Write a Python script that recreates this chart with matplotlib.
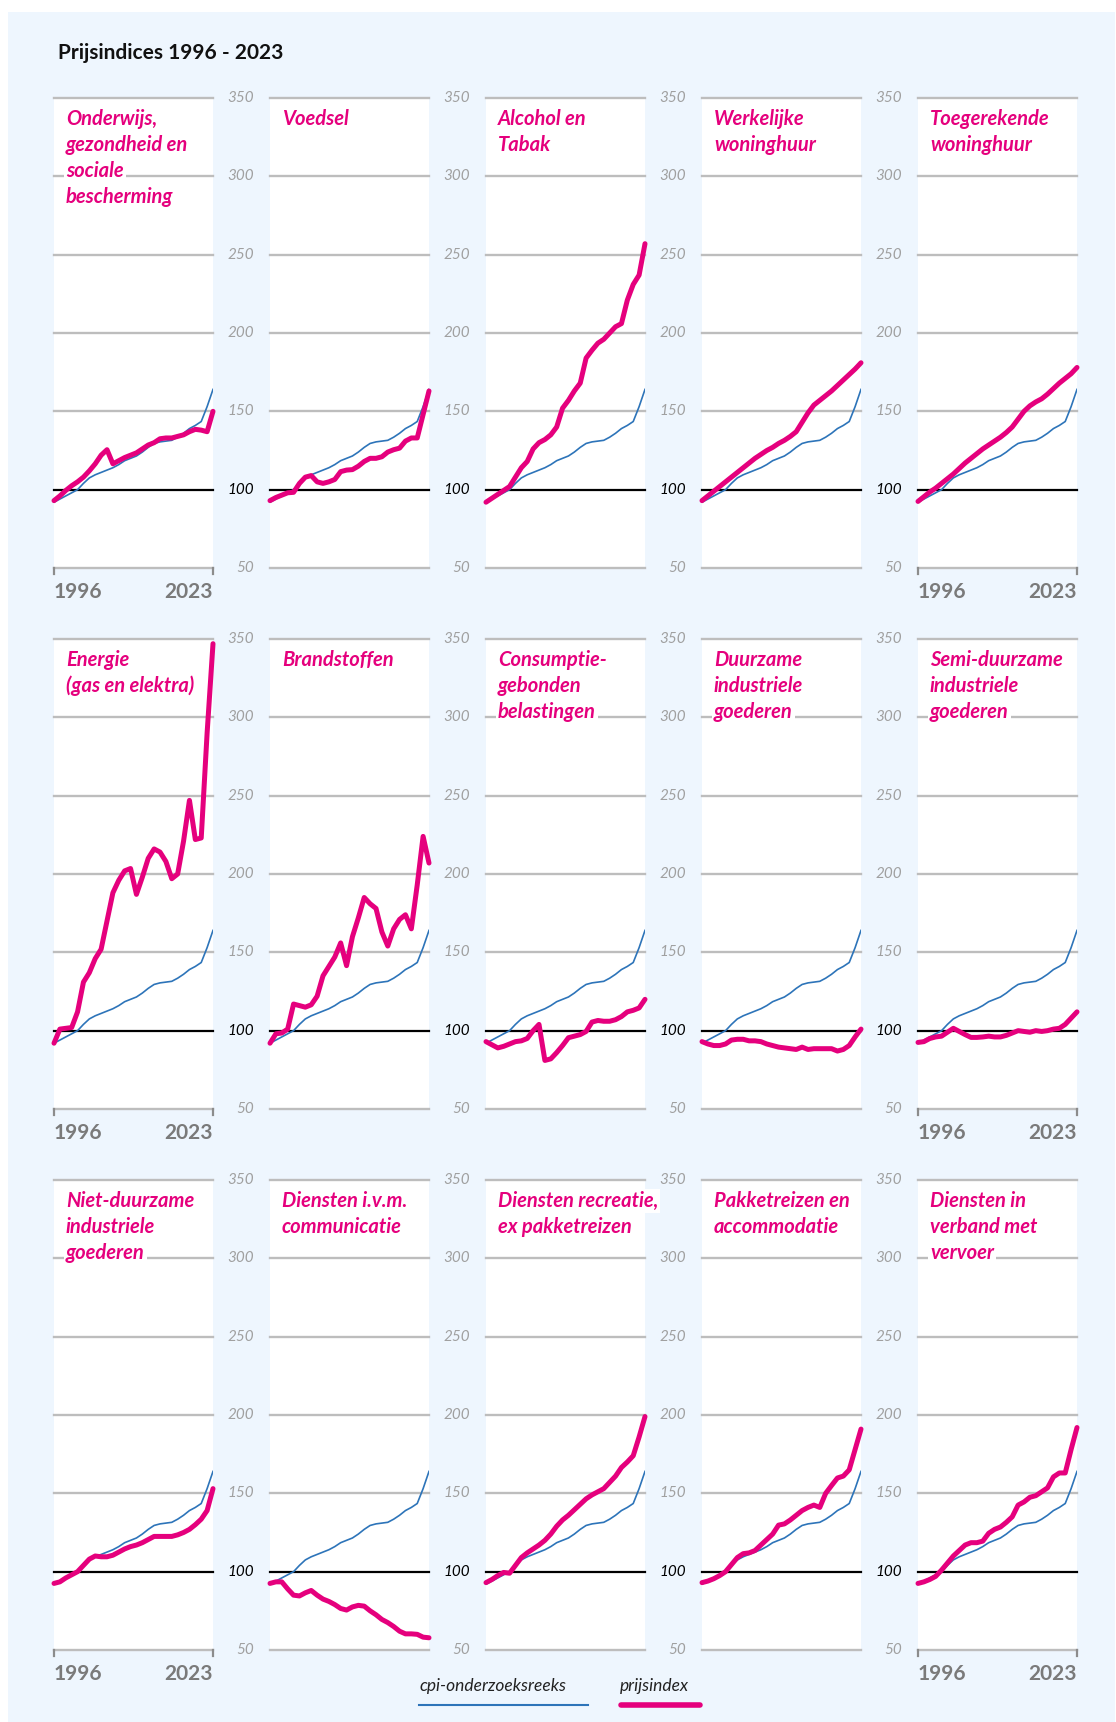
import matplotlib
matplotlib.use('Agg')
import matplotlib.pyplot as plt
from matplotlib.patches import Rectangle
from matplotlib.lines import Line2D
from matplotlib.transforms import blended_transform_factory

# data (index, 1996-2023)
years = list(range(1996, 2024))

cpi = [92, 94, 96, 98, 100, 104, 107.5, 109.5, 111, 112.5, 114, 116, 118.5, 120,
       121.5, 124, 127, 129.5, 130.5, 131, 131.5, 133.5, 136, 139, 141, 143.5, 153, 164]

onderwijs = [93, 96, 99.5, 102.5, 105, 108, 112, 116.5, 122, 125.5, 116.5, 118.5, 120.5, 122,
             123.5, 126, 128.5, 130, 132.5, 133, 133, 134, 135, 137, 138.5, 138, 137, 150]
voedsel = [93, 95, 96.5, 98, 98.3, 104, 108, 109, 105, 104, 105, 106.5, 111.5, 112.5,
           112.8, 115, 118, 120, 120, 121, 124, 125.5, 126.5, 131, 133, 133, 148, 163]
alcohol = [92, 94.5, 97, 99.5, 102, 108, 114, 118, 126, 130, 132, 135, 140, 152,
           157, 163, 168, 184, 189, 193.5, 196, 200, 204, 206, 221, 231, 237, 257]
werkelijke = [93, 96, 99, 102, 105, 108, 111, 114, 117, 120, 122.5, 125, 127, 129.5,
              131.5, 134, 137, 143, 149, 154, 157, 160, 163, 166.5, 170, 173.5, 177, 181]
toegerekend = [92.5, 95.5, 98.5, 101, 104, 107, 110, 113.5, 117, 120, 123, 126, 128.5, 131,
               133.5, 136.5, 140, 145, 150, 153.5, 156, 158, 161, 164.5, 168, 171, 174, 178]

energie = [92, 101, 101.5, 102, 112, 131, 137, 146, 152, 170, 188, 196, 202, 203.5,
           187, 198, 210, 216, 214, 208, 197, 200, 221, 247, 222, 223, 290, 347]
brandstoffen = [92, 98, 98.5, 101, 117, 116, 115, 116.5, 122, 135, 141, 147, 156, 141.5,
                160, 172, 185, 181, 178, 163, 154, 165, 171, 174, 165, 193, 224, 207]
belastingen = [93, 91, 89, 90, 91.5, 93, 93.5, 95, 100, 104, 81, 82, 86, 90.5,
               95.5, 96.5, 97.5, 99.5, 105.5, 106.5, 106, 106, 107, 109, 112, 113, 114.5, 120]
duurzaam = [93, 91.5, 90.5, 90.5, 91.5, 94, 94.5, 94.5, 93.5, 93.5, 93, 91.5, 90.5, 89.5,
            89, 88.5, 88, 89.5, 88, 88.5, 88.5, 88.5, 88.5, 87, 88, 90.5, 96, 101]
semiduurzaam = [92.5, 93, 95, 96, 96.5, 99, 101.5, 99.5, 97.5, 95.7, 95.7, 96, 96.5, 96,
                96, 97, 98.5, 100, 99.5, 99, 100, 99.5, 100, 101, 101.5, 104, 108, 112]

nietduurzaam = [92.5, 93.5, 96, 98, 100, 104, 108, 110, 109.5, 109.5, 110.5, 112.5, 114.5, 116,
                117, 118.5, 120.5, 122.5, 122.5, 122.5, 122.5, 123.5, 125, 127, 130, 133.5, 139, 153]
communicatie = [92.5, 93.5, 93.5, 89, 85, 84.5, 86.5, 88, 85, 82.5, 81, 79, 76.5, 75.5,
                77.5, 78.5, 78, 75, 72.5, 69.5, 67.5, 65, 62, 60.3, 60.3, 60, 58.2, 57.8]
recreatie = [93, 95, 97.5, 99.5, 99, 104, 109, 112, 114.5, 117, 120, 124, 129, 133,
             136, 139.5, 143, 146.5, 149, 151, 153, 157, 161, 166.5, 170, 174, 186, 199]
pakketreizen = [93, 94, 95.5, 97.5, 100, 104.5, 109, 111.5, 112, 113.5, 117, 120.5, 124, 129.7,
                130.5, 133, 136, 139, 141, 142.5, 141, 150, 155, 159.8, 161, 165, 178, 191]
vervoer = [92.5, 93.5, 95, 97, 101, 105.5, 110, 113.5, 117, 118.5, 118.5, 119.5, 124.5, 127,
           128.5, 131.5, 135, 142.5, 144.5, 147.5, 148.5, 151, 153.5, 160.5, 163, 163, 178, 192]

titles = [
    ["Onderwijs,", "gezondheid en", "sociale", "bescherming"], ["Voedsel"], ["Alcohol en", "Tabak"],
    ["Werkelijke", "woninghuur"], ["Toegerekende", "woninghuur"],
    ["Energie", "(gas en elektra)"], ["Brandstoffen"], ["Consumptie-", "gebonden", "belastingen"],
    ["Duurzame", "industriele", "goederen"], ["Semi-duurzame", "industriele", "goederen"],
    ["Niet-duurzame", "industriele", "goederen"], ["Diensten i.v.m.", "communicatie"],
    ["Diensten recreatie,", "ex pakketreizen"], ["Pakketreizen en", "accommodatie"],
    ["Diensten in", "verband met", "vervoer"],
]
series = [onderwijs, voedsel, alcohol, werkelijke, toegerekend,
          energie, brandstoffen, belastingen, duurzaam, semiduurzaam,
          nietduurzaam, communicatie, recreatie, pakketreizen, vervoer]
yticks = [50, 100, 150, 200, 250, 300, 350]

MAGENTA = '#E5007D'
BLUE = '#2D74B9'
GRID = '#BDBDBD'
BG = '#EEF6FE'
FONT = ['Lato', 'DejaVu Sans']

W, H = 1116, 1722
fig = plt.figure(figsize=(W / 100, H / 100), dpi=100)
bg = Rectangle((8 / W, 0), (W - 9) / W, (H - 12) / H, transform=fig.transFigure,
               fc=BG, ec='none', zorder=-10)
fig.patches.append(bg)
fig.text(58 / W, 1 - 53 / H, "Prijsindices 1996 - 2023", fontsize=15, fontweight='bold',
         family=FONT, color='#111111', ha='left', va='center')

col_left = [54, 270, 486, 702, 918]
row_top = [98, 639, 1180]
pw, ph = 159, 470

for i, vals in enumerate(series):
    r, c = divmod(i, 5)
    ax = fig.add_axes([col_left[c] / W, 1 - (row_top[r] + ph) / H, pw / W, ph / H])
    ax.set_facecolor('white')
    ax.set_xlim(1996, 2023)
    ax.set_ylim(50, 350)
    for s in ax.spines.values():
        s.set_visible(False)
    ax.set_xticks([])
    ax.set_yticks([])

    for v in yticks:
        ax.axhline(v, color='black' if v == 100 else GRID, lw=1.6 if v == 100 else 1.7,
                   zorder=1, clip_on=False)

    ax.plot(years, cpi, color=BLUE, lw=1.2, zorder=4)
    ax.plot(years, vals, color=MAGENTA, lw=3.6, zorder=5, solid_joinstyle='round',
            solid_capstyle='round', clip_on=False)

    # panel title, one white box per line
    for j, line in enumerate(titles[i]):
        ax.text(12 / pw, 1 - (21 + 26 * j) / ph, line, transform=ax.transAxes,
                fontsize=14.5, fontweight='bold', style='italic', family=FONT,
                color=MAGENTA, ha='left', va='center', zorder=3,
                bbox=dict(fc='white', ec='none', pad=1.5))

    if c > 0:
        tr = blended_transform_factory(ax.transAxes, ax.transData)
        for v in yticks:
            ax.text(-16 / pw, v, str(v), transform=tr, ha='right', va='center',
                    fontsize=11, style='italic', family=FONT,
                    color='black' if v == 100 else '#A0A0A0')

    if c in (0, 4):
        for x in (1996, 2023):
            ax.plot([x, x], [50, 46], color='#8C8C8C', lw=1.6, clip_on=False, zorder=2)
        ax.text(0, -24 / ph, '1996', transform=ax.transAxes, ha='left', va='center',
                fontsize=15, fontweight='bold', family=FONT, color='#7A7A7A')
        ax.text(1, -24 / ph, '2023', transform=ax.transAxes, ha='right', va='center',
                fontsize=15, fontweight='bold', family=FONT, color='#7A7A7A')

# legend
fig.text(419 / W, 1 - 1686 / H, 'cpi-onderzoeksreeks', fontsize=12.5, style='italic',
         family=FONT, color='#222222', ha='left', va='center')
fig.text(620 / W, 1 - 1686 / H, 'prijsindex', fontsize=12.5, style='italic',
         family=FONT, color='#222222', ha='left', va='center')
fig.lines.append(Line2D([419 / W, 588 / W], [1 - 1705 / H] * 2, transform=fig.transFigure,
                        color=BLUE, lw=1.5))
fig.lines.append(Line2D([621 / W, 700 / W], [1 - 1705 / H] * 2, transform=fig.transFigure,
                        color=MAGENTA, lw=4, solid_capstyle='round'))

fig.savefig('out.png', dpi=100)
